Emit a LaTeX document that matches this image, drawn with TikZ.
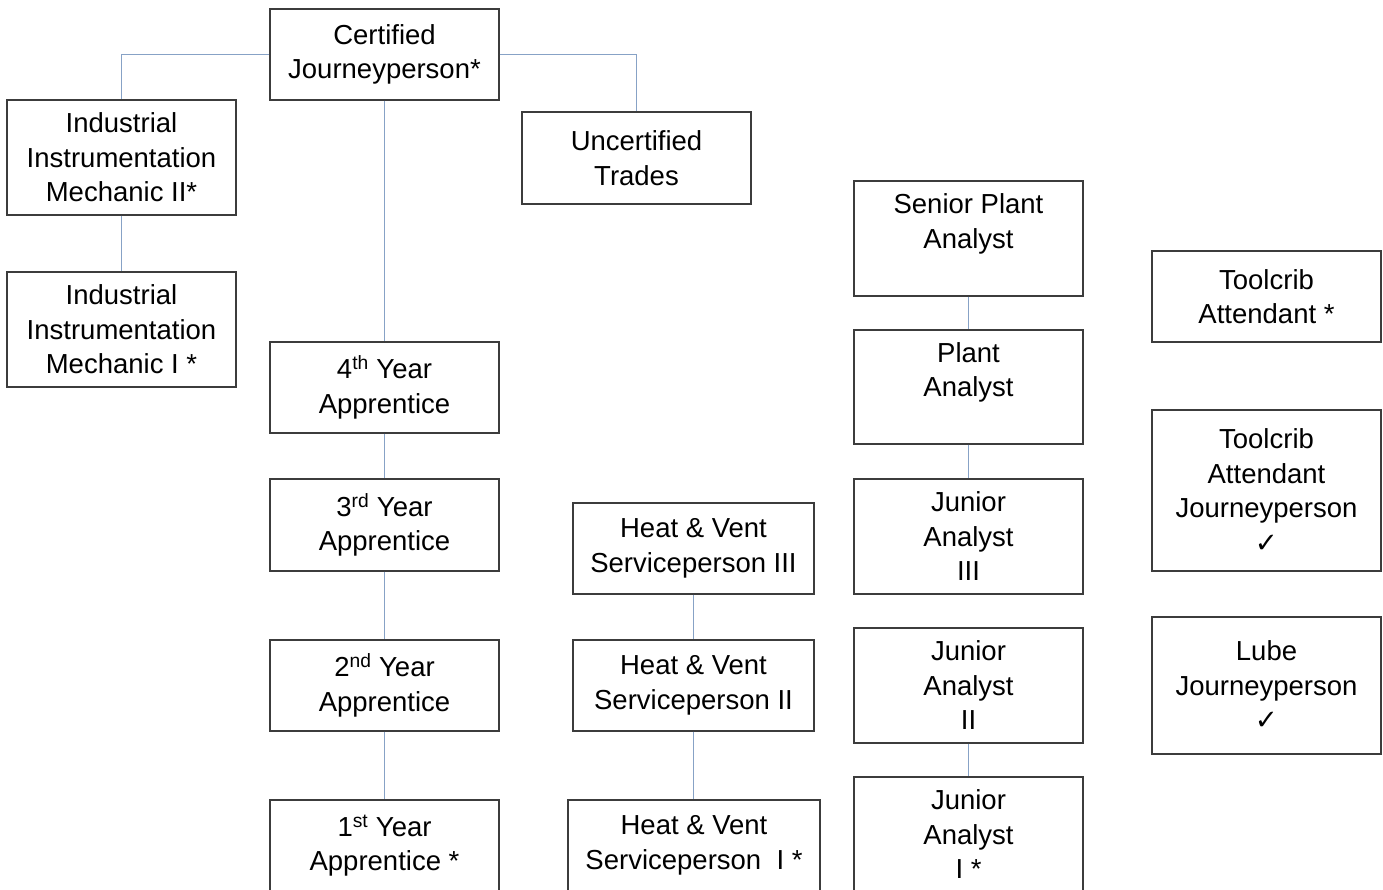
\documentclass[tikz,border=0pt]{standalone}
\usepackage{fontspec}
\setmainfont{Liberation Sans}
\newfontfamily\dejavu{DejaVu Sans}
\definecolor{linkc}{RGB}{135,162,198}
\definecolor{boxc}{RGB}{60,60,60}
\begin{document}
\begin{tikzpicture}[x=1pt,y=-1pt,
  box/.style={draw=boxc,line width=1.2pt,fill=white,align=center,inner sep=0pt,
    font=\fontsize{27.5}{34.5}\selectfont,text=black},
  link/.style={draw=linkc,line width=1.3pt}]
\useasboundingbox (0,0) rectangle (1383,890);
\clip (0,0) rectangle (1383,890);
\fill[white] (0,0) rectangle (1383,890);
% left / trades column
\node[box,minimum width=229pt,minimum height=91pt] (cj) at (384.5,54.5) {Certified\\Journeyperson*};
\node[box,minimum width=229pt,minimum height=115pt] (imII) at (121.5,157.5) {Industrial\\Instrumentation\\Mechanic II*};
\node[box,minimum width=229pt,minimum height=115pt] (imI) at (121.5,329.5) {Industrial\\Instrumentation\\Mechanic I *};
\node[box,minimum width=229pt,minimum height=92pt] (ut) at (636.5,158) {Uncertified\\Trades};
\node[box,minimum width=229pt,minimum height=91pt] (y4) at (384.5,387.5) {4\textsuperscript{th} Year\\Apprentice};
\node[box,minimum width=229pt,minimum height=92pt] (y3) at (384.5,525) {3\textsuperscript{rd} Year\\Apprentice};
\node[box,minimum width=229pt,minimum height=91pt] (y2) at (384.5,685.5) {2\textsuperscript{nd} Year\\Apprentice};
\node[box,minimum width=229pt,minimum height=91pt] (y1) at (384.5,845.5) {1\textsuperscript{st} Year\\Apprentice *};
% heat & vent
\node[box,minimum width=241pt,minimum height=91pt] (hv3) at (693.5,548.5) {Heat \& Vent\\Serviceperson III};
\node[box,minimum width=241pt,minimum height=91pt] (hv2) at (693.5,685.5) {Heat \& Vent\\Serviceperson II};
\node[box,minimum width=252pt,minimum height=91pt] (hv1) at (694,845.5) {Heat \& Vent\\Serviceperson\ \ I *};
% analysts
\node[box,minimum width=229pt,minimum height=115pt] (spa) at (968.5,238.5) {Senior Plant\\Analyst\\[-10pt]\strut};
\node[box,minimum width=229pt,minimum height=114pt] (pa) at (968.5,387) {Plant\\Analyst\\[-10pt]\strut};
\node[box,minimum width=229pt,minimum height=115pt] (ja3) at (968.5,536.5) {Junior\\Analyst\\III};
\node[box,minimum width=229pt,minimum height=115pt] (ja2) at (968.5,685.5) {Junior\\Analyst\\II};
\node[box,minimum width=229pt,minimum height=115pt] (ja1) at (968.5,834.5) {Junior\\Analyst\\I *};
% toolcrib / lube
\node[box,minimum width=229pt,minimum height=91pt] (tc) at (1266.5,296.5) {Toolcrib\\Attendant *};
\node[box,minimum width=229pt,minimum height=161pt] (tcj) at (1266.5,490.5) {Toolcrib\\Attendant\\Journeyperson\\{\dejavu ✓}};
\node[box,minimum width=229pt,minimum height=137pt] (lj) at (1266.5,685.5) {Lube\\Journeyperson\\{\dejavu ✓}};
% connectors
\draw[link] (cj.west) -| (imII.north);
\draw[link] (cj.east) -| (ut.north);
\draw[link] (cj.south) -- (y4.north);
\draw[link] (y4.south) -- (y3.north);
\draw[link] (y3.south) -- (y2.north);
\draw[link] (y2.south) -- (y1.north);
\draw[link] (imII.south) -- (imI.north);
\draw[link] (hv3.south) -- (hv2.north);
\draw[link] (hv2.south) -- (hv2.south |- hv1.north);
\draw[link] (spa.south) -- (pa.north);
\draw[link] (pa.south) -- (ja3.north);
\draw[link] (ja2.south) -- (ja1.north);
\end{tikzpicture}
\end{document}
